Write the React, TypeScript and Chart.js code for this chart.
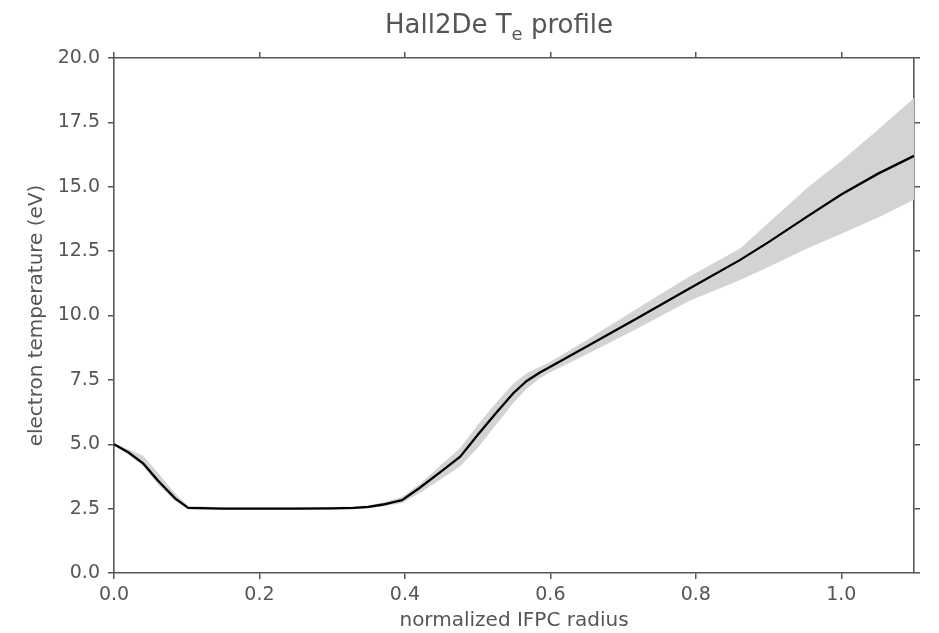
import React, { useEffect, useRef } from "react";
import { Chart, registerables } from "chart.js";

Chart.register(...registerables);

// normalized IFPC radius
const radius = [0, 0.02, 0.04, 0.06, 0.084, 0.102, 0.15, 0.2, 0.25, 0.3, 0.33, 0.35, 0.37, 0.396, 0.42, 0.45, 0.476, 0.5, 0.525, 0.549, 0.567, 0.585, 0.6, 0.65, 0.72, 0.79, 0.861, 0.9, 0.953, 1.0, 1.05, 1.1];
// electron temperature (eV): mean profile
const teMean = [5.0, 4.68, 4.26, 3.6, 2.9, 2.53, 2.5, 2.5, 2.5, 2.51, 2.53, 2.57, 2.66, 2.83, 3.3, 3.95, 4.52, 5.36, 6.2, 6.98, 7.45, 7.78, 8.01, 8.8, 9.9, 11.03, 12.16, 12.85, 13.84, 14.7, 15.5, 16.2];
// lower bound of uncertainty band
const teLow = [4.95, 4.6, 4.15, 3.45, 2.8, 2.48, 2.46, 2.46, 2.46, 2.47, 2.48, 2.51, 2.58, 2.72, 3.1, 3.65, 4.15, 4.85, 5.75, 6.6, 7.15, 7.55, 7.8, 8.5, 9.5, 10.55, 11.38, 11.88, 12.6, 13.17, 13.8, 14.5];
// upper bound of uncertainty band
const teHigh = [5.05, 4.8, 4.55, 3.9, 3.1, 2.6, 2.55, 2.55, 2.55, 2.56, 2.58, 2.63, 2.74, 2.95, 3.45, 4.2, 4.85, 5.75, 6.6, 7.35, 7.75, 8.0, 8.2, 9.05, 10.28, 11.5, 12.6, 13.6, 14.95, 16.0, 17.2, 18.45];

const X_MIN = 0;
const X_MAX = 1.1;
const X_STEP = 0.2;
const Y_MIN = 0;
const Y_MAX = 20;
const Y_STEP = 2.5;

const TITLE_MAIN = "Hall2De T";
const TITLE_SUB = "e";
const TITLE_REST = " profile";
const X_LABEL = "normalized IFPC radius";
const Y_LABEL = "electron temperature (eV)";

const TEXT = "#555555";
const AXIS = "#555555";
const BAND = "#d3d3d3";
const FONT = "'DejaVu Sans', sans-serif";

const titlePlugin = {
  id: "subscriptTitle",
  afterDraw(chart: any) {
    const ctx = chart.ctx as CanvasRenderingContext2D;
    const area = chart.chartArea;
    ctx.save();
    ctx.fillStyle = TEXT;
    ctx.textBaseline = "alphabetic";
    ctx.textAlign = "left";
    const mainFont = `26px ${FONT}`;
    const subFont = `18px ${FONT}`;
    ctx.font = mainFont;
    const w1 = ctx.measureText(TITLE_MAIN).width;
    const w3 = ctx.measureText(TITLE_REST).width;
    ctx.font = subFont;
    const w2 = ctx.measureText(TITLE_SUB).width;
    const total = w1 + w2 + w3;
    const cx = (area.left + area.right) / 2 - 15;
    let x = cx - total / 2;
    const baseY = 33;
    ctx.font = mainFont;
    ctx.fillText(TITLE_MAIN, x, baseY);
    x += w1;
    ctx.font = subFont;
    ctx.fillText(TITLE_SUB, x, baseY + 6.5);
    x += w2;
    ctx.font = mainFont;
    ctx.fillText(TITLE_REST, x, baseY);
    ctx.restore();
  },
};

export default function App() {
  const canvasRef = useRef<HTMLCanvasElement | null>(null);

  useEffect(() => {
    const canvas = canvasRef.current;
    if (!canvas) return;
    const pts = (ys: number[]) => radius.map((x, i) => ({ x, y: ys[i] }));

    const tickFont = { family: FONT, size: 19 };
    const labelFont = { family: FONT, size: 20 };

    const chart = new Chart(canvas, {
      type: "line",
      data: {
        datasets: [
          {
            label: "mean",
            data: pts(teMean),
            borderColor: "#000000",
            borderWidth: 2.3,
            pointRadius: 0,
            fill: false,
            tension: 0,
            xAxisID: "x",
            yAxisID: "y",
          },
          {
            label: "upper",
            data: pts(teHigh),
            borderColor: "rgba(0,0,0,0)",
            borderWidth: 0,
            backgroundColor: BAND,
            pointRadius: 0,
            fill: "+1",
            tension: 0,
            xAxisID: "x",
            yAxisID: "y",
          },
          {
            label: "lower",
            data: pts(teLow),
            borderColor: "rgba(0,0,0,0)",
            borderWidth: 0,
            backgroundColor: BAND,
            pointRadius: 0,
            fill: false,
            tension: 0,
            xAxisID: "x",
            yAxisID: "y",
          },
        ],
      },
      options: {
        animation: false,
        responsive: false,
        maintainAspectRatio: false,
        layout: { padding: { top: 52, left: 0, right: 0, bottom: 0 } },
        plugins: {
          legend: { display: false },
          tooltip: { enabled: false },
          title: { display: false },
        },
        scales: {
          x: {
            type: "linear",
            position: "bottom",
            min: X_MIN,
            max: X_MAX,
            afterFit: (s: any) => { s.height = 60; },
            ticks: {
              stepSize: X_STEP,
              includeBounds: false,
              autoSkip: false,
              maxRotation: 0,
              padding: 5,
              color: TEXT,
              font: tickFont,
              callback: (v: any) => Number(v).toFixed(1),
            },
            grid: { drawOnChartArea: false, drawTicks: true, tickLength: 6, color: AXIS, lineWidth: 1.5 },
            border: { display: true, color: AXIS, width: 1.6 },
            title: { display: true, text: X_LABEL, color: TEXT, font: labelFont, padding: { top: 0, bottom: 0 } },
          },
          x2: {
            type: "linear",
            position: "top",
            min: X_MIN,
            max: X_MAX,
            afterFit: (s: any) => { s.height = 6; },
            ticks: { display: false, stepSize: X_STEP, includeBounds: false },
            grid: { drawOnChartArea: false, drawTicks: true, tickLength: 6, color: AXIS, lineWidth: 1.5 },
            border: { display: true, color: AXIS, width: 1.6 },
          },
          y: {
            type: "linear",
            position: "left",
            min: Y_MIN,
            max: Y_MAX,
            afterFit: (s: any) => { s.width = 114; },
            ticks: {
              stepSize: Y_STEP,
              includeBounds: false,
              autoSkip: false,
              padding: 8,
              color: TEXT,
              font: tickFont,
              callback: (v: any) => Number(v).toFixed(1),
            },
            grid: { drawOnChartArea: false, drawTicks: true, tickLength: 6, color: AXIS, lineWidth: 1.5 },
            border: { display: true, color: AXIS, width: 1.6 },
            title: { display: true, text: Y_LABEL, color: TEXT, font: labelFont, padding: { top: 25, bottom: 0 } },
          },
          y2: {
            type: "linear",
            position: "right",
            min: Y_MIN,
            max: Y_MAX,
            afterFit: (s: any) => { s.width = 25; },
            ticks: { display: false, stepSize: Y_STEP, includeBounds: false },
            grid: { drawOnChartArea: false, drawTicks: true, tickLength: 6, color: AXIS, lineWidth: 1.5 },
            border: { display: true, color: AXIS, width: 1.6 },
          },
        },
      },
      plugins: [titlePlugin],
    } as any);

    return () => chart.destroy();
  }, []);

  return (
    <div style={{ position: "absolute", left: 0, top: 0, width: 939, height: 633, background: "#ffffff" }}>
      <canvas ref={canvasRef} width={939} height={633} style={{ display: "block", width: 939, height: 633 }} />
    </div>
  );
}
